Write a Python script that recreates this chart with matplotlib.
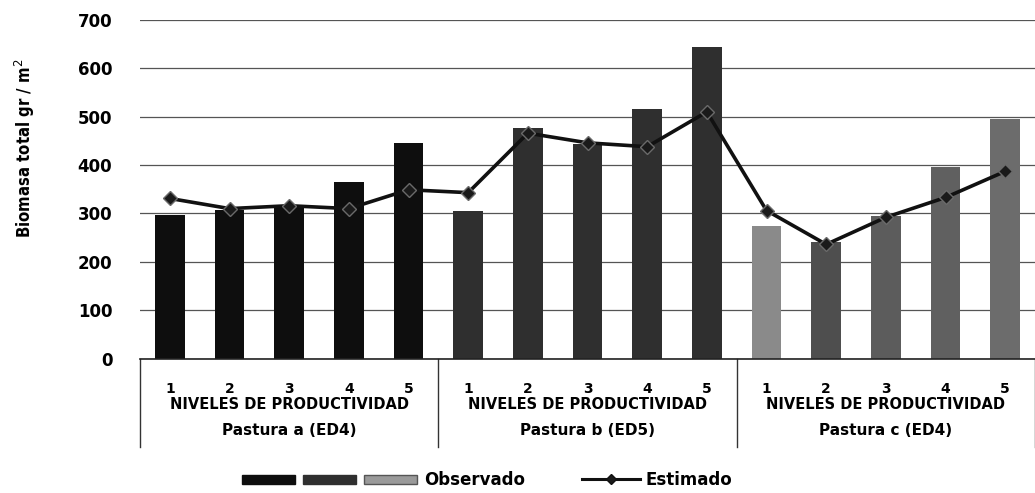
import numpy as np
import matplotlib
matplotlib.use("Agg")
import matplotlib.pyplot as plt
from matplotlib.patches import Patch
from matplotlib.lines import Line2D
from matplotlib.legend_handler import HandlerTuple

# data
pasturas = ['Pastura a (ED4)', 'Pastura b (ED5)', 'Pastura c (ED4)']
niveles = ['1', '2', '3', '4', '5']
observado = [297, 308, 315, 366, 446,
             306, 477, 443, 517, 645,
             275, 241, 294, 397, 496]
estimado = [331, 310, 316, 310, 349,
            343, 466, 446, 438, 510,
            306, 236, 292, 333, 387]
bar_colors = ['#0e0e0e'] * 5 + ['#2f2f2f'] * 5 + ['#8a8a8a', '#4e4e4e', '#5c5c5c', '#606060', '#6c6c6c']

fig = plt.figure(figsize=(10.35, 4.93), dpi=100)
ax = fig.add_axes([0.1353, 0.2728, 0.8647, 0.6866])

x = np.arange(len(observado))
ax.bar(x, observado, width=0.5, color=bar_colors, zorder=2)
ax.plot(x, estimado, color='#111111', lw=2.6, marker='D', ms=7,
        mfc='#1a1a1a', mec='#6a6a6a', mew=1.0, zorder=3)

ax.set_xlim(-0.5, len(observado) - 0.5)
ax.set_ylim(0, 700)
ax.set_yticks(range(0, 701, 100))
ax.yaxis.grid(True, color='#555555', lw=0.9)
ax.set_axisbelow(True)
for s in ['left', 'right', 'top']:
    ax.spines[s].set_visible(False)
ax.spines['bottom'].set_color('#222222')
ax.spines['bottom'].set_linewidth(1.2)
ax.tick_params(axis='y', length=0, pad=20, labelsize=12)
for t in ax.get_yticklabels():
    t.set_fontweight('bold')

ax.set_xticks(x)
ax.set_xticklabels(niveles * len(pasturas), fontsize=10, fontweight='bold')
ax.tick_params(axis='x', length=0, pad=17)

ax.set_ylabel('Biomasa total gr / m$^2$', fontsize=12, fontweight='bold',
              fontstretch='condensed')
ax.yaxis.set_label_coords(-0.115, 0.62)

# group labels and separators below the axis
trans = ax.get_xaxis_transform()
for g, name in enumerate(pasturas):
    c = g * 5 + 2
    ax.text(c, -0.137, 'NIVELES DE PRODUCTIVIDAD', transform=trans, ha='center',
            va='center', fontsize=10.5, fontweight='bold')
    ax.text(c, -0.214, name, transform=trans, ha='center', va='center',
            fontsize=11, fontweight='bold')
for b in [-0.5, 4.5, 9.5, 14.5]:
    ax.plot([b, b], [0, -0.262], transform=trans, color='#333333', lw=1.0, clip_on=False)

# legend
h_obs = (Patch(color='#0e0e0e'), Patch(color='#2f2f2f'),
         Patch(facecolor='#9a9a9a', edgecolor='#555555'))
h_est = Line2D([], [], color='#111111', lw=2.2, marker='D', ms=5, mfc='#1a1a1a')
fig.legend([h_obs], ['Observado'],
           handler_map={tuple: HandlerTuple(ndivide=None, pad=0.45)},
           loc='center left', bbox_to_anchor=(242 / 1035, 0.026), frameon=False,
           borderpad=0, borderaxespad=0, handlelength=10.5, handleheight=0.45,
           handletextpad=0.4, prop={'size': 12, 'weight': 'bold'})
fig.legend([h_est], ['Estimado'],
           loc='center left', bbox_to_anchor=(582 / 1035, 0.026), frameon=False,
           borderpad=0, borderaxespad=0, handlelength=3.5,
           handletextpad=0.3, prop={'size': 12, 'weight': 'bold'})

fig.savefig('out.png', dpi=100)
